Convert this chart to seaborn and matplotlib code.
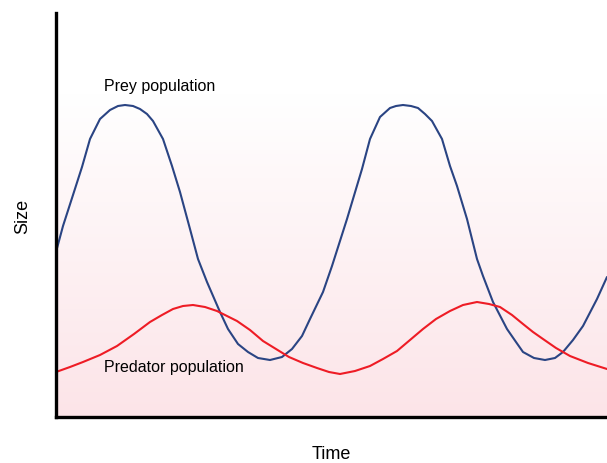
import numpy as np
import pandas as pd
import matplotlib
matplotlib.use("Agg")
import matplotlib.pyplot as plt
import seaborn as sns
from matplotlib.colors import LinearSegmentedColormap

# Prey population over time
prey_time = [0, 7, 17, 26, 34, 44, 54, 62, 69, 77, 84, 91, 97, 107, 116, 124,
             134, 142, 151, 164, 172, 182, 192, 202, 214, 226, 236, 246, 254,
             267, 276, 291, 306, 314, 324, 334, 340, 347, 355, 362, 369, 376,
             386, 394, 401, 411, 421, 427, 437, 451, 460, 467, 478, 489, 499,
             507, 517, 527, 541, 551]
prey_size = [165, 191, 222, 250, 278, 298, 307, 311, 312, 311, 308, 303, 296,
             278, 251, 225, 188, 158, 135, 105, 88, 73, 65, 59, 57, 60, 68, 81,
             98, 125, 151, 198, 248, 278, 300, 309, 311, 312, 311, 309, 303,
             296, 278, 251, 231, 198, 158, 141, 115, 88, 75, 65, 59, 57, 59,
             65, 77, 91, 118, 140]

# Predator population over time
pred_time = [0, 14, 27, 44, 61, 78, 94, 106, 117, 127, 137, 149, 161, 171, 181,
             194, 207, 220, 233, 247, 261, 273, 284, 299, 314, 327, 341, 354,
             367, 380, 394, 407, 421, 433, 444, 456, 467, 477, 487, 500, 514,
             532, 551]
pred_size = [45, 50, 55, 62, 71, 83, 95, 102, 108, 111, 112, 110, 106, 101, 96,
             87, 76, 68, 60, 54, 49, 45, 43, 46, 51, 58, 66, 77, 88, 98, 106,
             112, 115, 113, 110, 102, 93, 85, 78, 69, 61, 54, 48]

prey_label = "Prey population"
pred_label = "Predator population"

sns.set_style("white")
plt.rcParams["font.family"] = ["Liberation Sans", "DejaVu Sans"]

fig = plt.figure(figsize=(6.07, 4.64), dpi=100)
ax = fig.add_axes([56 / 607, 46 / 464, 1 - 56 / 607, 404 / 464])

x_max, y_max = 551, 404

# White-to-pink vertical gradient background (white at top)
cmap = LinearSegmentedColormap.from_list(
    "bg", [(0.0, "#ffffff"), (0.2, "#ffffff"), (1.0, "#fce4e8")])
grad = np.linspace(0, 1, 256).reshape(-1, 1)
ax.imshow(grad, extent=[0, x_max, 0, y_max], cmap=cmap, aspect="auto",
          origin="upper", zorder=0)

prey = pd.DataFrame({"time": prey_time, "size": prey_size})
pred = pd.DataFrame({"time": pred_time, "size": pred_size})

line_kw = dict(linewidth=1.5, zorder=2, solid_joinstyle="round",
               solid_capstyle="round")
sns.lineplot(data=prey, x="time", y="size", ax=ax, color="#2a4483", **line_kw)
sns.lineplot(data=pred, x="time", y="size", ax=ax, color="#ee1c25", **line_kw)

ax.set_xlim(0, x_max)
ax.set_ylim(0, y_max)

ax.text(48, 331, prey_label, fontsize=11.5, va="center", ha="left", color="black")
ax.text(48, 50, pred_label, fontsize=11.5, va="center", ha="left", color="black")

ax.set_xticks([])
ax.set_yticks([])
ax.set_xlabel("Time", fontsize=13, labelpad=20, color="black")
ax.set_ylabel("Size", fontsize=13, labelpad=18, color="black")

for side in ["top", "right"]:
    ax.spines[side].set_visible(False)
for side in ["left", "bottom"]:
    ax.spines[side].set_color("black")
    ax.spines[side].set_linewidth(2.4)

fig.savefig("out.png", dpi=100)
